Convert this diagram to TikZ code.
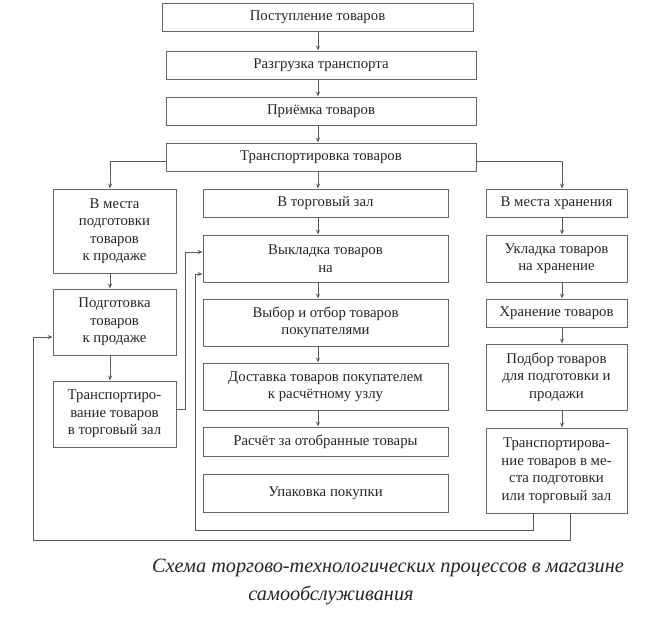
\documentclass[tikz,border=0pt]{standalone}
\usepackage{fontspec}
\setmainfont{Liberation Serif}
\usetikzlibrary{arrows.meta,calc}
\tikzset{
  box/.style={draw=black!60, line width=0.9pt, align=center, inner sep=0pt, text=black!85,
    font=\fontsize{14.8}{17.5}\selectfont},
  arr/.style={draw=black!65, line width=0.8pt, -{Stealth[length=5pt,width=4pt]}},
  captext/.style={font=\fontsize{20.3}{23}\selectfont\itshape, text=black!85, inner sep=0pt}
}
\newcommand\bx[6]{\node[box, minimum width={#4-#2}, minimum height={#5-#3}] (#1) at ({(#2+#4)/2},{(#3+#5)/2}) {#6};}
\begin{document}
\begin{tikzpicture}[x=1pt,y=-1pt]
\useasboundingbox (0,0) rectangle (669,629);
% main chain
\bx{b1}{162}{3}{473}{31}{Поступление товаров}
\bx{b2}{166}{51}{476}{79}{Разгрузка транспорта}
\bx{b3}{166}{97}{476}{125}{Приёмка товаров}
\bx{b4}{166}{143}{476}{171}{Транспортировка товаров}
% left column
\bx{L1}{53}{189}{176}{273}{В места\\подготовки\\товаров\\к продаже}
\bx{L2}{53}{289}{176}{355}{Подготовка\\товаров\\к продаже}
\bx{L3}{53}{381}{176}{447}{Транспортиро-\\вание товаров\\в торговый зал}
% middle column
\bx{M0}{203}{189}{448}{217}{В торговый зал}
\bx{M1}{203}{235}{448}{282}{Выкладка товаров\\на}
\bx{M2}{203}{299}{448}{346}{Выбор и отбор товаров\\покупателями}
\bx{M3}{203}{363}{448}{410}{Доставка товаров покупателем\\к расчётному узлу}
\bx{M4}{203}{427}{448}{456}{Расчёт за отобранные товары}
\bx{M5}{203}{474}{448}{512}{Упаковка покупки}
% right column
\bx{R0}{486}{189}{627}{217}{В места хранения}
\bx{R1}{486}{235}{627}{282}{Укладка товаров\\на хранение}
\bx{R2}{486}{299}{627}{327}{Хранение товаров}
\bx{R3}{486}{344}{627}{410}{Подбор товаров\\для подготовки и\\продажи}
\bx{R4}{486}{428}{627}{513}{Транспортирова-\\ние товаров в ме-\\ста подготовки\\или торговый зал}
% guide coordinates
\coordinate (cx) at (318,0);
\coordinate (lx) at (110,0);
\coordinate (rx) at (562,0);
\coordinate (k1) at (195,530);
\coordinate (k2) at (33,540);
% main chain arrows
\draw[arr] (b1.south -| cx) -- (b2.north -| cx);
\draw[arr] (b2.south -| cx) -- (b3.north -| cx);
\draw[arr] (b3.south -| cx) -- (b4.north -| cx);
\draw[arr] (b4.south -| cx) -- (M0.north -| cx);
\draw[arr] ([yshift=-4pt]b4.west) -| (L1.north -| lx);
\draw[arr] ([yshift=-4pt]b4.east) -| (R0.north -| rx);
% left column
\draw[arr] (L1.south -| lx) -- (L2.north -| lx);
\draw[arr] (L2.south -| lx) -- (L3.north -| lx);
% middle column
\draw[arr] (M0.south -| cx) -- (M1.north -| cx);
\draw[arr] (M1.south -| cx) -- (M2.north -| cx);
\draw[arr] (M2.south -| cx) -- (M3.north -| cx);
\draw[arr] (M3.south -| cx) -- (M4.north -| cx);
% right column
\draw[arr] (R0.south -| rx) -- (R1.north -| rx);
\draw[arr] (R1.south -| rx) -- (R2.north -| rx);
\draw[arr] (R2.south -| rx) -- (R3.north -| rx);
\draw[arr] (R3.south -| rx) -- (R4.north -| rx);
% feedback lines
\draw[arr] ([yshift=5pt]L3.east) -- ++(9,0) |- ([yshift=6.5pt]M1.west);
\draw[arr] ([xshift=-23.5pt]R4.south) |- (k1) |- ([yshift=-15.5pt]M1.west);
\draw[arr] ([xshift=13.5pt]R4.south) |- (k2) |- ([yshift=-15pt]L2.west);
% caption
\node[captext] (c1) at (388,568) {Схема торгово-технологических процессов в магазине};
\node[captext] (c2) at (331,595) {самообслуживания};
\end{tikzpicture}
\end{document}
